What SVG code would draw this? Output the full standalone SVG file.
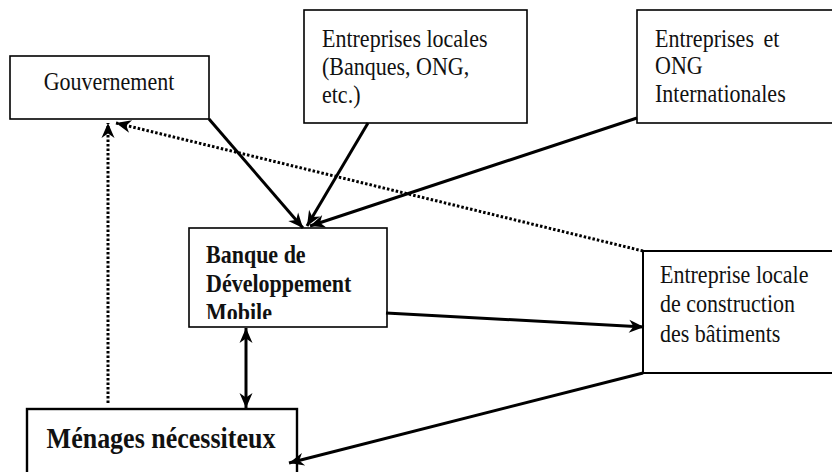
<svg xmlns="http://www.w3.org/2000/svg" width="832" height="472" viewBox="0 0 832 472">
<style>
.box{fill:#fff;stroke:#000;stroke-width:1.6}
.t{font-family:"Liberation Serif","Times New Roman",serif;font-size:22px;fill:#111}
.b{font-weight:bold}
.c{fill:none;stroke:#000;stroke-width:3}
.d{fill:none;stroke:#000;stroke-width:3;stroke-dasharray:2.5 2}
</style>
<defs>
<marker id="ah" viewBox="-16 -7 17 14" refX="0" refY="0" markerWidth="17" markerHeight="14" markerUnits="userSpaceOnUse" orient="auto-start-reverse">
<path d="M0,0 L-15,-6.5 L-10.5,0 L-15,6.5 Z" fill="#000"/>
</marker>
<clipPath id="bclip"><rect x="189" y="228" width="198" height="91"/></clipPath>
</defs>
<rect width="832" height="472" fill="#fff"/>
<g id="gouvernement">
<rect class="box" x="10" y="56" width="199" height="63"/>
<text class="t" text-anchor="middle" transform="translate(109,90) scale(1,1.17)">Gouvernement</text>
</g>
<g id="entreprises-locales">
<rect class="box" x="304" y="10" width="223" height="113"/>
<text class="t" transform="translate(322,47) scale(1,1.17)"><tspan x="0" y="0">Entreprises locales</tspan><tspan x="0" dy="23.9">(Banques, ONG,</tspan><tspan x="0" dy="23.9">etc.)</tspan></text>
</g>
<g id="entreprises-ong">
<rect class="box" x="637" y="10" width="210" height="113"/>
<text class="t" transform="translate(655,47) scale(1,1.17)"><tspan x="0" y="0" word-spacing="4">Entreprises et</tspan><tspan x="0" dy="23.5">ONG</tspan><tspan x="0" dy="23.9">Internationales</tspan></text>
</g>
<g id="banque">
<rect class="box" x="189" y="228" width="198" height="99"/>
<g clip-path="url(#bclip)">
<text class="t b" transform="translate(206,263) scale(1,1.17)"><tspan x="0" y="0">Banque de</tspan><tspan x="0" dy="24.8">Développement</tspan><tspan x="0" dy="24.8">Mobile</tspan></text>
</g>
</g>
<g id="construction">
<rect class="box" x="643" y="251" width="210" height="122" style="stroke-width:2"/>
<text class="t" transform="translate(660,283) scale(1,1.17)"><tspan x="0" y="0">Entreprise locale</tspan><tspan x="0" dy="25">de construction</tspan><tspan x="0" dy="25.3">des bâtiments</tspan></text>
</g>
<g id="menages">
<rect class="box" x="27" y="409" width="270" height="80" style="stroke-width:2.4"/>
<text class="t b" text-anchor="middle" style="font-size:26px" transform="translate(161,448) scale(1,1.17)">Ménages nécessiteux</text>
</g>
<g id="connectors">
<path class="c" d="M209,119 L303,228" marker-end="url(#ah)"/>
<path class="c" d="M368,123 L307,226" marker-end="url(#ah)"/>
<path class="c" d="M637,118 L310,226" marker-end="url(#ah)"/>
<path class="d" d="M643,251 L116,123" marker-end="url(#ah)"/>
<path class="d" d="M108,403 L108,123" marker-end="url(#ah)"/>
<path class="c" d="M386,313 L644,327" marker-end="url(#ah)"/>
<path class="c" d="M246,328 L246,408" marker-start="url(#ah)" marker-end="url(#ah)"/>
<path class="c" d="M643,373 L289,463" marker-end="url(#ah)"/>
</g>
</svg>
